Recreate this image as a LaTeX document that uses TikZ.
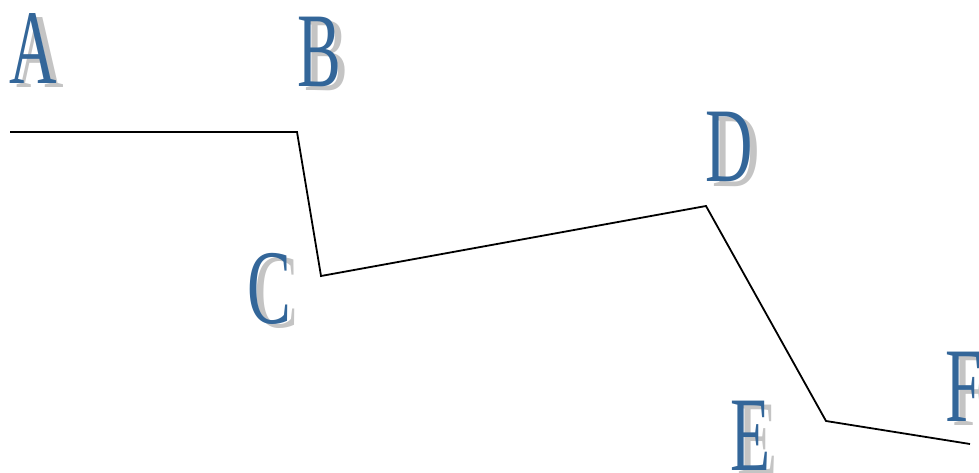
\documentclass[tikz,border=0pt]{standalone}
\usepackage{fontspec}
\setmainfont{Liberation Serif}
\definecolor{lblue}{HTML}{336699}
\definecolor{lshadow}{HTML}{C4C4C4}
\tikzset{
  lbl/.style={inner sep=0pt, anchor=base west, text=lblue, font=\fontsize{106}{106}\selectfont},
  lshad/.style={lbl, text=lshadow},
  seg/.style={draw=black, line width=1.8pt}
}
\newcommand{\condensed}[1]{\scalebox{0.62}[1]{#1}}
\begin{document}
\begin{tikzpicture}[x=1pt,y=-1pt]
\useasboundingbox (0,0) rectangle (979,473);
% points
\coordinate (pA) at (10,132);
\coordinate (pB) at (297,132);
\coordinate (pC) at (321,276);
\coordinate (pD) at (706,206);
\coordinate (pE) at (826,421);
\coordinate (pF) at (970,444);
\draw[seg] (pA) -- (pB) -- (pC) -- (pD) -- (pE) -- (pF);
% shadows
\node[lshad] (sA) at (16,88) {\condensed{A}};
\node[lshad] (sB) at (304,91) {\condensed{B}};
\node[lshad] (sC) at (254,327) {\condensed{C}};
\node[lshad] (sD) at (712,186) {\condensed{D}};
\node[lshad] (sE) at (737,474) {\condensed{E}};
\node[lshad] (sF) at (952,425) {\condensed{F}};
% labels
\node[lbl] (lA) at (9,84) {\condensed{A}};
\node[lbl] (lB) at (297,87) {\condensed{B}};
\node[lbl] (lC) at (247,323) {\condensed{C}};
\node[lbl] (lD) at (705,182) {\condensed{D}};
\node[lbl] (lE) at (730,470) {\condensed{E}};
\node[lbl] (lF) at (945,421) {\condensed{F}};
\end{tikzpicture}
\end{document}
